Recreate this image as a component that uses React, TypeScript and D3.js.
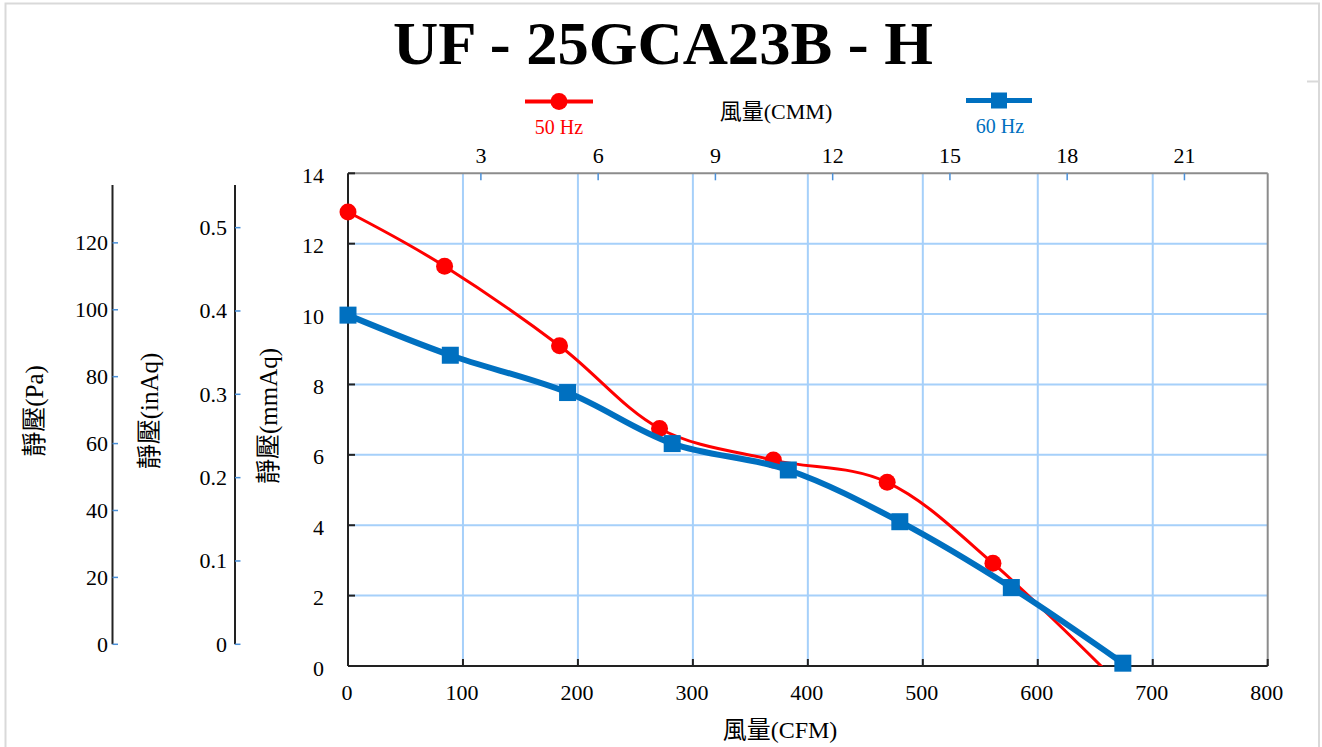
import React from "react";
import * as d3 from "d3";

const TITLE = "UF - 25GCA23B - H";
const CFM_TICKS = [0, 100, 200, 300, 400, 500, 600, 700, 800];
const MMAQ_TICKS = [0, 2, 4, 6, 8, 10, 12, 14];
const CMM_TICKS = [3, 6, 9, 12, 15, 18, 21];
const PA_TICKS = [0, 20, 40, 60, 80, 100, 120];
const INAQ_TICKS = [0, 0.1, 0.2, 0.3, 0.4, 0.5];

const HZ50_CFM = [0, 84, 184, 271, 370, 469, 561, 672];
const HZ50_MMAQ = [12.9, 11.36, 9.1, 6.75, 5.85, 5.22, 2.92, -0.55];
const HZ60_CFM = [0, 89, 191, 282, 383, 480, 577, 674];
const HZ60_MMAQ = [9.97, 8.83, 7.77, 6.32, 5.57, 4.1, 2.23, 0.08];

const RED = "#ff0000";
const BLUE = "#0070c0";
const GRID = "#a6d0fa";
const FONT = "'Liberation Serif', 'Noto Sans CJK TC', serif";

export default function App() {
  const W = 1322, H = 747;
  const x = d3.scaleLinear().domain([0, 800]).range([348, 1267.7]);
  const y = d3.scaleLinear().domain([0, 14]).range([666, 173.3]);
  const cmm = d3.scaleLinear().domain([-0.4, 23.13]).range([348, 1267.7]);
  const pa = d3.scaleLinear().domain([0, 14 * 9.80665]).range([644.3, 185]);
  const inaq = d3.scaleLinear().domain([0, 14 / 25.4]).range([644.3, 185]);

  const s50 = HZ50_CFM.map((c, i) => [c, HZ50_MMAQ[i]] as [number, number]);
  const s60 = HZ60_CFM.map((c, i) => [c, HZ60_MMAQ[i]] as [number, number]);
  const line = d3
    .line<[number, number]>()
    .x((d) => x(d[0]))
    .y((d) => y(d[1]))
    .curve(d3.curveCardinal.tension(0));

  const [x0, x1] = x.range();
  const [yb, yt] = y.range();
  const tickFs = 22;

  return (
    <svg
      width={W}
      height={H}
      viewBox={`0 0 ${W} ${H}`}
      style={{ position: "absolute", left: 0, top: 0, display: "block", background: "#fff" }}
      fontFamily={FONT}
    >
      <defs>
        <clipPath id="plotClip">
          <rect x={x0 - 20} y={yt - 20} width={x1 - x0 + 40} height={yb - yt + 20} />
        </clipPath>
      </defs>
      {/* outer frame */}
      <path d={`M5.5,${H} V3.5 H1319 V${H}`} fill="none" stroke="#d9d9d9" strokeWidth={2} />
      <line x1={1307} x2={1319} y1={81.5} y2={81.5} stroke="#d9d9d9" strokeWidth={2} />

      {/* title */}
      <text x={663} y={64} textAnchor="middle" fontSize={62} fontWeight="bold" fill="#000"
        fontFamily="'Liberation Serif', serif" textLength={540} lengthAdjust="spacingAndGlyphs">
        {TITLE}
      </text>

      {/* legend */}
      <line x1={525} x2={593} y1={101.5} y2={101.5} stroke={RED} strokeWidth={4} />
      <circle cx={559} cy={101.5} r={8.5} fill={RED} />
      <text x={559} y={127} textAnchor="middle" dominantBaseline="central" fontSize={20} fill={RED}>50 Hz</text>
      <text x={776} y={111} textAnchor="middle" dominantBaseline="central" fontSize={22} fill="#000">風量(CMM)</text>
      <line x1={966} x2={1032} y1={100.5} y2={100.5} stroke={BLUE} strokeWidth={5} />
      <rect x={999 - 8} y={100.5 - 8} width={16} height={16} fill={BLUE} />
      <text x={1000} y={126} textAnchor="middle" dominantBaseline="central" fontSize={20} fill={BLUE}>60 Hz</text>

      {/* grid */}
      {CFM_TICKS.filter((t) => t > 0 && t < 800).map((t) => (
        <line key={"gx" + t} x1={x(t)} x2={x(t)} y1={yt} y2={yb} stroke={GRID} strokeWidth={2} />
      ))}
      {MMAQ_TICKS.filter((t) => t > 0 && t < 14).map((t) => (
        <line key={"gy" + t} x1={x0} x2={x1} y1={y(t)} y2={y(t)} stroke={GRID} strokeWidth={2} />
      ))}

      {/* frame: top and right gray */}
      <line x1={x0} x2={x1} y1={yt} y2={yt} stroke="#8c8c8c" strokeWidth={2} />
      <line x1={x1} x2={x1} y1={yt} y2={yb} stroke="#8c8c8c" strokeWidth={2} />
      {/* CMM top axis */}
      {CMM_TICKS.map((t) => (
        <g key={"cmm" + t}>
          <line x1={cmm(t)} x2={cmm(t)} y1={yt} y2={yt + 7} stroke="#4a90d9" strokeWidth={1.5} />
          <text x={cmm(t)} y={155} textAnchor="middle" dominantBaseline="central" fontSize={tickFs} fill="#000">{t}</text>
        </g>
      ))}

      {/* left mmAq axis */}
      <line x1={x0} x2={x0} y1={yt} y2={yb} stroke="#222" strokeWidth={2} />
      {MMAQ_TICKS.map((t) => (
        <g key={"my" + t}>
          <line x1={x0} x2={x0 + 7} y1={y(t)} y2={y(t)} stroke="#222" strokeWidth={2} />
          <text x={324} y={y(t) + 2} textAnchor="end" dominantBaseline="central" fontSize={tickFs} fill="#000">{t}</text>
        </g>
      ))}
      {/* bottom CFM axis */}
      <line x1={x0} x2={x1} y1={yb} y2={yb} stroke="#222" strokeWidth={2} />
      {CFM_TICKS.map((t) => (
        <g key={"bx" + t}>
          <line x1={x(t)} x2={x(t)} y1={yb} y2={yb - 7} stroke="#222" strokeWidth={2} />
          <text x={x(t) - 1} y={692} textAnchor="middle" dominantBaseline="central" fontSize={tickFs} fill="#000">{t}</text>
        </g>
      ))}
      <text x={780} y={730} textAnchor="middle" dominantBaseline="central" fontSize={24} fill="#000">風量(CFM)</text>

      {/* Pa axis */}
      <line x1={112.5} x2={112.5} y1={185} y2={644.3} stroke="#222" strokeWidth={2} />
      {PA_TICKS.map((t) => (
        <g key={"pa" + t}>
          <line x1={112.5} x2={118} y1={pa(t)} y2={pa(t)} stroke="#4a90d9" strokeWidth={1.5} />
          <text x={108} y={pa(t)} textAnchor="end" dominantBaseline="central" fontSize={tickFs} fill="#000">{t}</text>
        </g>
      ))}
      {/* inAq axis */}
      <line x1={235} x2={235} y1={185} y2={644.3} stroke="#222" strokeWidth={2} />
      {INAQ_TICKS.map((t) => (
        <g key={"in" + t}>
          <line x1={235} x2={240.5} y1={inaq(t)} y2={inaq(t)} stroke="#4a90d9" strokeWidth={1.5} />
          <text x={227} y={inaq(t)} textAnchor="end" dominantBaseline="central" fontSize={tickFs} fill="#000">{t}</text>
        </g>
      ))}

      {/* axis titles */}
      <text transform="translate(34,411) rotate(-90)" textAnchor="middle" dominantBaseline="central" fontSize={25} fill="#000">靜壓(Pa)</text>
      <text transform="translate(149,411) rotate(-90)" textAnchor="middle" dominantBaseline="central" fontSize={25} fill="#000">靜壓(inAq)</text>
      <text transform="translate(268,416) rotate(-90)" textAnchor="middle" dominantBaseline="central" fontSize={25} fill="#000">靜壓(mmAq)</text>

      {/* series */}
      <g clipPath="url(#plotClip)">
        <path d={line(s50) || ""} fill="none" stroke={RED} strokeWidth={3} />
      </g>
      {s50.filter((d) => d[1] >= 0).map((d, i) => (
        <circle key={"c50" + i} cx={x(d[0])} cy={y(d[1])} r={8.5} fill={RED} />
      ))}
      <g clipPath="url(#plotClip)">
        <path d={line(s60) || ""} fill="none" stroke={BLUE} strokeWidth={6} />
      </g>
      {s60.filter((d) => d[1] >= 0).map((d, i) => (
        <rect key={"r60" + i} x={x(d[0]) - 8.5} y={y(d[1]) - 8.5} width={17} height={17} fill={BLUE} />
      ))}
    </svg>
  );
}
